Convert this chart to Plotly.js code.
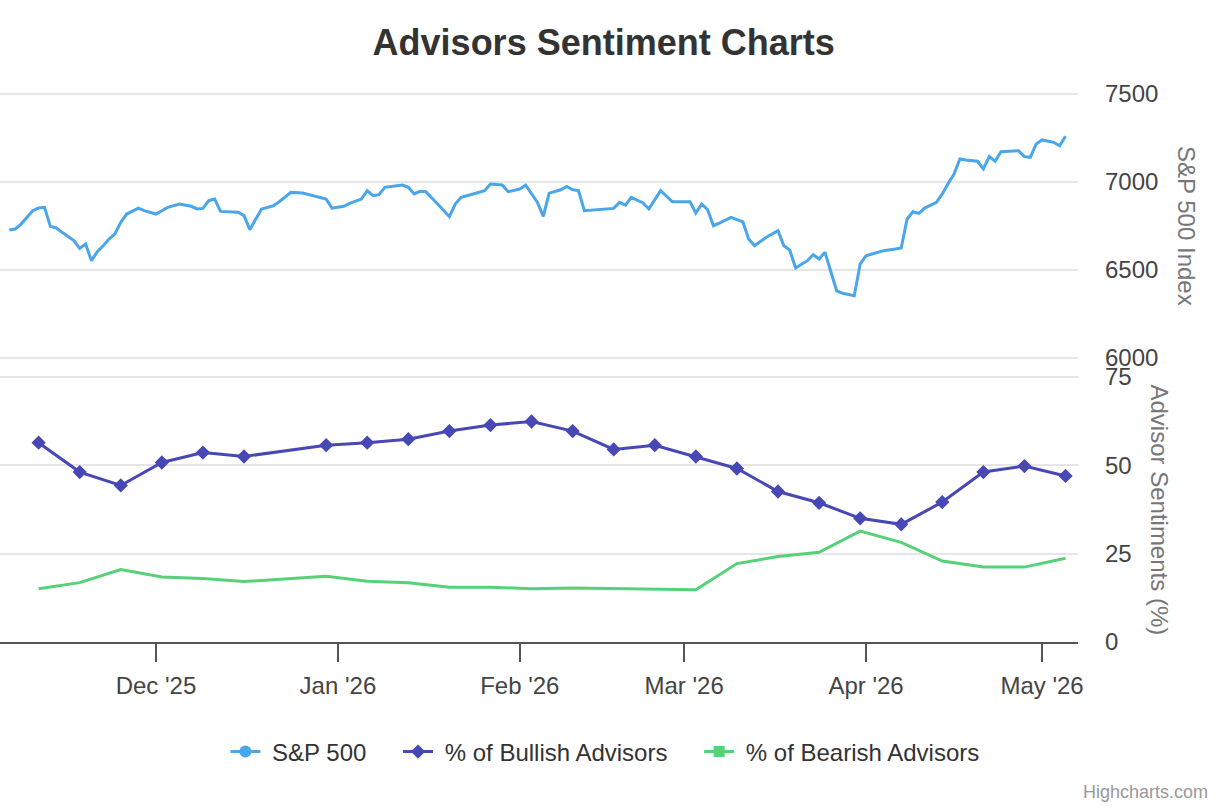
<!DOCTYPE html>
<html>
<head>
<meta charset="utf-8">
<script src="https://cdn.plot.ly/plotly-3.0.1.min.js"></script>
<style>
  html, body { margin: 0; padding: 0; background: #ffffff; }
  #chart { width: 1222px; height: 810px; }
</style>
</head>
<body>
<div id="chart"></div>
<script>
// ---------- DATA ----------
const spDates = [
  "2025-11-06","2025-11-07","2025-11-08","2025-11-09","2025-11-10","2025-11-11","2025-11-12","2025-11-13",
  "2025-11-14","2025-11-15","2025-11-16","2025-11-17","2025-11-18","2025-11-19","2025-11-20","2025-11-21",
  "2025-11-22","2025-11-23","2025-11-24","2025-11-25","2025-11-26","2025-11-28","2025-11-29","2025-12-01",
  "2025-12-02","2025-12-03","2025-12-05","2025-12-07","2025-12-08","2025-12-09","2025-12-10","2025-12-11",
  "2025-12-12","2025-12-14","2025-12-15","2025-12-16","2025-12-17","2025-12-18","2025-12-19","2025-12-20",
  "2025-12-21","2025-12-22","2025-12-24","2025-12-26","2025-12-28","2025-12-30","2025-12-31","2026-01-02",
  "2026-01-03","2026-01-05","2026-01-06","2026-01-07","2026-01-08","2026-01-09","2026-01-11","2026-01-12",
  "2026-01-13","2026-01-14","2026-01-15","2026-01-16","2026-01-18","2026-01-20","2026-01-21","2026-01-22",
  "2026-01-23","2026-01-25","2026-01-26","2026-01-27","2026-01-29","2026-01-30","2026-02-01","2026-02-02",
  "2026-02-03","2026-02-04","2026-02-05","2026-02-06","2026-02-08","2026-02-09","2026-02-10","2026-02-11",
  "2026-02-12","2026-02-14","2026-02-17","2026-02-18","2026-02-19","2026-02-20","2026-02-22","2026-02-23",
  "2026-02-25","2026-02-27","2026-03-02","2026-03-03","2026-03-04","2026-03-05","2026-03-06","2026-03-07",
  "2026-03-09","2026-03-10","2026-03-11","2026-03-12","2026-03-13","2026-03-15","2026-03-17","2026-03-18",
  "2026-03-19","2026-03-20","2026-03-22","2026-03-23","2026-03-24","2026-03-25","2026-03-26","2026-03-27",
  "2026-03-28","2026-03-30","2026-03-31","2026-04-01","2026-04-02","2026-04-04","2026-04-06","2026-04-07",
  "2026-04-08","2026-04-09","2026-04-10","2026-04-11","2026-04-13","2026-04-14","2026-04-15","2026-04-16",
  "2026-04-17","2026-04-18","2026-04-20","2026-04-21","2026-04-22","2026-04-23","2026-04-24","2026-04-26",
  "2026-04-27","2026-04-28","2026-04-29","2026-04-30","2026-05-01","2026-05-03","2026-05-04","2026-05-05"
];
const spValues = [
  6727,6733,6761,6799,6837,6852,6856,6748,
  6739,6714,6689,6667,6623,6648,6553,6604,
  6638,6676,6705,6771,6818,6852,6837,6818,
  6837,6856,6875,6862,6847,6850,6894,6903,
  6833,6831,6828,6809,6729,6790,6847,6856,
  6865,6888,6941,6937,6922,6903,6851,6862,
  6879,6903,6951,6922,6928,6970,6979,6983,
  6970,6932,6947,6945,6875,6803,6875,6913,
  6922,6941,6951,6989,6983,6945,6960,6983,
  6932,6884,6805,6937,6956,6975,6956,6951,
  6837,6843,6850,6884,6869,6913,6881,6847,
  6951,6888,6888,6824,6875,6843,6752,6767,
  6799,6786,6774,6676,6638,6686,6723,6638,
  6614,6511,6553,6587,6563,6601,6487,6382,
  6368,6354,6534,6581,6591,6610,6619,6625,
  6790,6831,6822,6852,6884,6932,6992,7045,
  7131,7125,7118,7074,7144,7118,7172,7178,
  7178,7144,7140,7216,7239,7225,7206,7260
];

const advDates = [
  "2025-11-11","2025-11-18","2025-11-25","2025-12-02","2025-12-09","2025-12-16","2025-12-30",
  "2026-01-06","2026-01-13","2026-01-20","2026-01-27","2026-02-03","2026-02-10","2026-02-17",
  "2026-02-24","2026-03-03","2026-03-10","2026-03-17","2026-03-24","2026-03-31","2026-04-07",
  "2026-04-14","2026-04-21","2026-04-28","2026-05-05"
];
const bullishValues = [
  56.4,48.1,44.3,50.8,53.6,52.5,55.7,
  56.4,57.4,59.7,61.4,62.4,59.7,54.5,
  55.7,52.5,49.1,42.6,39.4,35.0,33.3,
  39.6,48.1,49.8,47.0
];
const bearishValues = [
  15.1,16.8,20.5,18.4,18.0,17.1,18.6,
  17.2,16.8,15.5,15.5,15.1,15.3,15.1,
  15.0,14.8,22.2,24.2,25.4,31.4,28.2,
  22.9,21.2,21.2,23.7
];

const seriesNames = ["S&P 500", "% of Bullish Advisors", "% of Bearish Advisors"];
const axisTitles = ["S&P 500 Index", "Advisor Sentiments (%)"];
const chartTitle = "Advisors Sentiment Charts";

// ---------- STYLE ----------
const FONT = "Liberation Sans, Arial, Helvetica, sans-serif";
const C_SP = "#4aa6ea";
const C_BULL = "#4747b5";
const C_BEAR = "#55d177";
const NB = "\u00a0";
const legendName = (s) => NB + s + NB.repeat(4);

const traces = [
  {
    x: spDates, y: spValues, type: "scatter", mode: "lines",
    name: seriesNames[0], xaxis: "x", yaxis: "y",
    line: { color: C_SP, width: 3 }, showlegend: false, legendgroup: "sp"
  },
  {
    x: [null], y: [null], type: "scatter", mode: "lines+markers",
    name: legendName(seriesNames[0]), xaxis: "x", yaxis: "y", legendgroup: "sp",
    line: { color: C_SP, width: 3 }, marker: { color: C_SP, size: 12, symbol: "circle" }
  },
  {
    x: advDates, y: bullishValues, type: "scatter", mode: "lines+markers",
    name: legendName(seriesNames[1]), xaxis: "x", yaxis: "y2",
    line: { color: C_BULL, width: 3 }, marker: { color: C_BULL, size: 11, symbol: "diamond" }
  },
  {
    x: advDates, y: bearishValues, type: "scatter", mode: "lines",
    name: seriesNames[2], xaxis: "x", yaxis: "y2",
    line: { color: C_BEAR, width: 3 }, showlegend: false, legendgroup: "bear"
  },
  {
    x: [null], y: [null], type: "scatter", mode: "lines+markers",
    name: NB + seriesNames[2], xaxis: "x", yaxis: "y2", legendgroup: "bear",
    line: { color: C_BEAR, width: 3 }, marker: { color: C_BEAR, size: 11, symbol: "square" }
  }
];

const yCommon = {
  side: "right", anchor: "x",
  showgrid: true, gridcolor: "#e6e6e6", gridwidth: 2,
  zeroline: false, showline: false, ticks: "",
  tickfont: { family: FONT, size: 24, color: "#444" },
  ticklabelstandoff: 26,
  fixedrange: true
};

const layout = {
  width: 1222, height: 810,
  paper_bgcolor: "#ffffff", plot_bgcolor: "#ffffff",
  margin: { l: 0, r: 144, t: 88, b: 168 },
  font: { family: FONT, color: "#333" },
  title: {
    text: "<b>" + chartTitle + "</b>",
    font: { family: FONT, size: 36, color: "#333" },
    xref: "container", x: 0.494, xanchor: "center",
    yref: "container", y: 0.948, yanchor: "middle"
  },
  xaxis: {
    type: "date", anchor: "y2",
    range: ["2025-11-04 10:00", "2026-05-07 03:00"],
    tick0: "2025-12-01", dtick: "M1", tickformat: "%b '%y",
    ticks: "outside", ticklen: 18, tickwidth: 2, tickcolor: "#555",
    showline: true, linecolor: "#555", linewidth: 2,
    showgrid: false, zeroline: false,
    tickfont: { family: FONT, size: 24, color: "#444" },
    ticklabelstandoff: 3,
    fixedrange: true
  },
  yaxis: Object.assign({}, yCommon, {
    domain: [0.5054, 1], range: [5977.3, 7534.1], tick0: 0, dtick: 500
  }),
  yaxis2: Object.assign({}, yCommon, {
    domain: [0, 0.48736], range: [0, 76.415], tick0: 0, dtick: 25
  }),
  showlegend: true,
  legend: {
    orientation: "h",
    xref: "container", x: 0.495, xanchor: "center",
    yref: "container", y: 0.0716, yanchor: "middle",
    font: { family: FONT, size: 24, color: "#333" },
    bgcolor: "rgba(0,0,0,0)"
  },
  annotations: [
    {
      text: axisTitles[0], xref: "paper", yref: "paper",
      x: 1, xshift: 109, y: 0.7509, textangle: 90, showarrow: false,
      xanchor: "center", yanchor: "middle",
      font: { family: FONT, size: 24, color: "#777" }
    },
    {
      text: axisTitles[1], xref: "paper", yref: "paper",
      x: 1, xshift: 82, y: 0.2392, textangle: 90, showarrow: false,
      xanchor: "center", yanchor: "middle",
      font: { family: FONT, size: 24, color: "#777" }
    },
    {
      text: "Highcharts.com", xref: "paper", yref: "paper",
      x: 1.1224, y: -0.2708, xanchor: "right", yanchor: "middle", showarrow: false,
      font: { family: FONT, size: 18, color: "#999" }
    }
  ]
};

Plotly.newPlot("chart", traces, layout, { displayModeBar: false, staticPlot: true });
</script>
</body>
</html>
